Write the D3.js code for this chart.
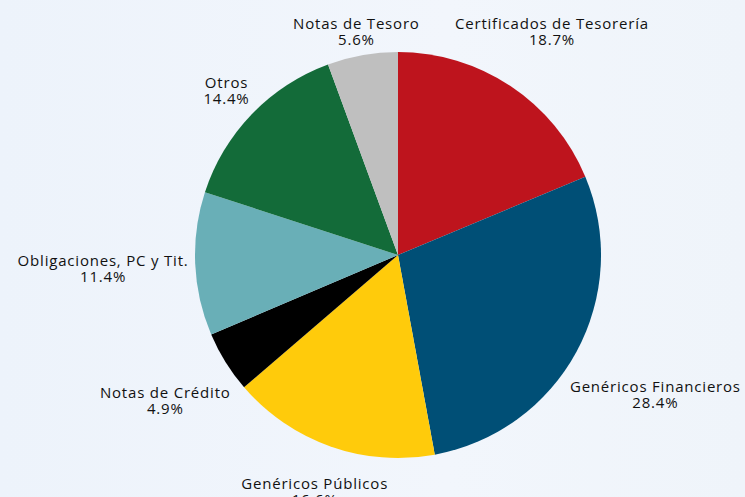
<!DOCTYPE html>
<html>
<head>
<meta charset="utf-8">
<script src="https://cdn.jsdelivr.net/npm/d3@7"></script>
<style>
  html, body { margin: 0; padding: 0; }
  body { width: 745px; height: 497px; overflow: hidden; }
  .lbl { font-family: "Open Sans", sans-serif; font-size: 15px; letter-spacing: 0.8px; fill: #111; }
</style>
</head>
<body>
<div id="chart"></div>
<script>
// Data, clockwise from 12 o'clock
var categories = ['Certificados de Tesorería', 'Genéricos Financieros', 'Genéricos Públicos',
                  'Notas de Crédito', 'Obligaciones, PC y Tit.', 'Otros', 'Notas de Tesoro'];
var shares = [18.7, 28.4, 16.6, 4.9, 11.4, 14.4, 5.6];
var sliceColors = ['#be141d', '#004f76', '#ffcb0b', '#000000', '#69afb7', '#136b39', '#bfbfbf'];

const width = 745, height = 497;
const cx = 398, cy = 255, radius = 203;

var svg = d3.select('#chart')
            .append('svg')
            .attr('width', width)
            .attr('height', height);

// background
var defs = svg.append('defs');
var grad = defs.append('linearGradient').attr('id', 'bg').attr('x1', 0).attr('x2', 1).attr('y1', 0).attr('y2', 0);
grad.append('stop').attr('offset', '0%').attr('stop-color', '#edf3fb');
grad.append('stop').attr('offset', '60%').attr('stop-color', '#f2f6fc');
grad.append('stop').attr('offset', '100%').attr('stop-color', '#eff4fa');
svg.append('rect').attr('width', width).attr('height', height).attr('fill', 'url(#bg)');

var data = categories.map((c, i) => ({name: c, value: shares[i], color: sliceColors[i]}));

var pie = d3.pie().sort(null).value(d => d.value);
var arc = d3.arc().innerRadius(0).outerRadius(radius);
var arcs = pie(data);

var g = svg.append('g').attr('transform', `translate(${cx}, ${cy})`);

g.selectAll('path')
  .data(arcs)
  .enter()
  .append('path')
  .attr('d', arc)
  .attr('fill', d => d.data.color);

// Labels: two lines, placed outside the slice along its mid angle
var lineH = 16;
var labels = svg.append('g');
arcs.forEach(function (a) {
    var lg = labels.append('g');
    lg.append('text').attr('class', 'lbl').attr('text-anchor', 'middle')
      .attr('y', 0).text(a.data.name);
    lg.append('text').attr('class', 'lbl').attr('text-anchor', 'middle')
      .attr('y', lineH).text(a.data.value.toFixed(1) + '%');

    var bb = lg.node().getBBox();
    var mid = (a.startAngle + a.endAngle) / 2;
    var s = Math.sin(mid), c = Math.cos(mid);
    var gap = 6;
    var d = radius + gap + Math.abs(s) * bb.width / 2 + Math.abs(c) * bb.height / 2;
    var x = cx + s * d;
    var y = cy - c * d;
    // keep the box inside the picture
    var top = Math.max(y - bb.height / 2, 13);
    x = Math.min(Math.max(x, bb.width / 2 + 8), width - bb.width / 2 - 2);
    lg.attr('transform', `translate(${x}, ${top - bb.y})`);
});
</script>
</body>
</html>
